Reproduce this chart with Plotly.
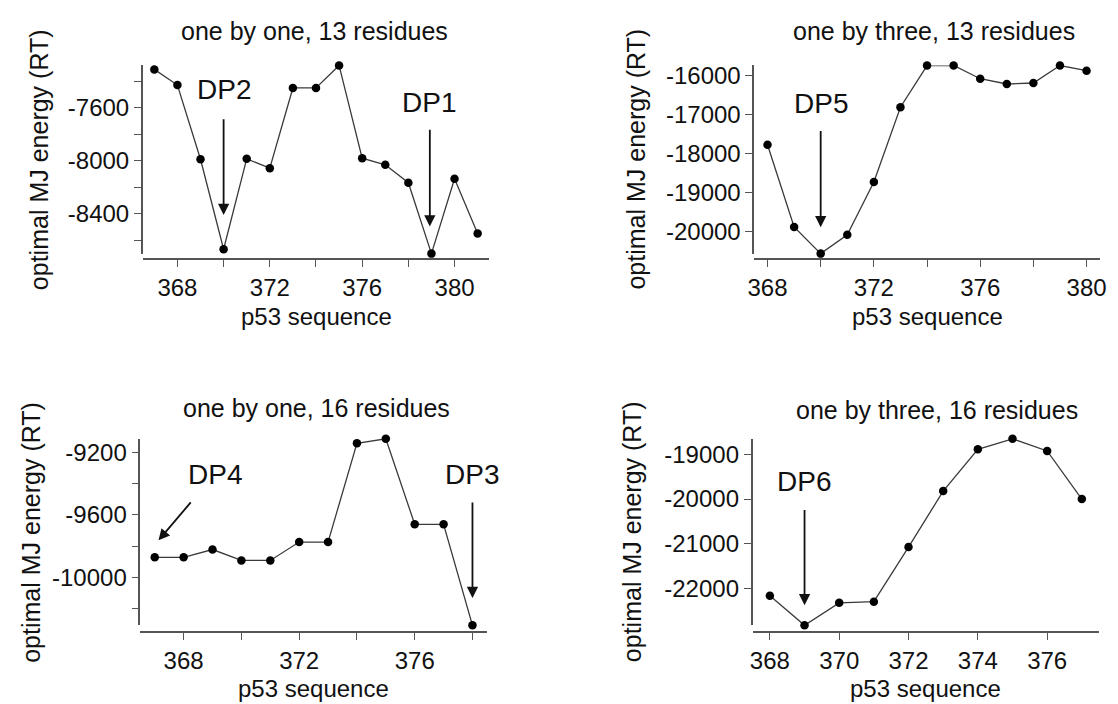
import plotly.graph_objects as go

FONT = "Liberation Sans, Arial, sans-serif"
W, H = 1118, 704

# ---------------- data ----------------
P1_TITLE = "one by one, 13 residues"
P1_X = [367, 368, 369, 370, 371, 372, 373, 374, 375, 376, 377, 378, 379, 380, 381]
P1_Y = [-7310, -7428, -7988, -8667, -7985, -8055, -7450, -7450, -7280, -7980, -8030, -8165, -8700, -8135, -8548]

P2_TITLE = "one by three, 13 residues"
P2_X = [368, 369, 370, 371, 372, 373, 374, 375, 376, 377, 378, 379, 380]
P2_Y = [-17775, -19885, -20570, -20085, -18732, -16808, -15740, -15736, -16077, -16213, -16187, -15738, -15872]

P3_TITLE = "one by one, 16 residues"
P3_X = [367, 368, 369, 370, 371, 372, 373, 374, 375, 376, 377, 378]
P3_Y = [-9872, -9872, -9822, -9892, -9892, -9774, -9774, -9141, -9112, -9660, -9660, -10308]

P4_TITLE = "one by three, 16 residues"
P4_X = [368, 369, 370, 371, 372, 373, 374, 375, 376, 377]
P4_Y = [-22163, -22822, -22320, -22293, -21073, -19823, -18890, -18655, -18926, -20000]

X_TITLE = "p53 sequence"
Y_TITLE = "optimal MJ energy (RT)"

# tick values / labels
P1_XTICKS = [368, 372, 376, 380]
P1_XMINOR = [368, 370, 372, 374, 376, 378, 380]
P1_YTICKS = [-7600, -8000, -8400]
P1_YMINOR = [-7400, -7600, -7800, -8000, -8200, -8400, -8600]

P2_XTICKS = [368, 372, 376, 380]
P2_XMINOR = [368, 370, 372, 374, 376, 378, 380]
P2_YTICKS = [-16000, -17000, -18000, -19000, -20000]
P2_YMINOR = []

P3_XTICKS = [368, 372, 376]
P3_XMINOR = [368, 370, 372, 374, 376, 378]
P3_YTICKS = [-9200, -9600, -10000]
P3_YMINOR = [-9200, -9400, -9600, -9800, -10000, -10200]

P4_XTICKS = [368, 370, 372, 374, 376]
P4_XMINOR = []
P4_YTICKS = [-19000, -20000, -21000, -22000]
P4_YMINOR = []

# annotations: (label, text_x, text_y, head_x, head_y, tail_x, tail_y)
P1_DP = [("DP2", 370.0, -7458, 370.0, -8409, 370.0, -7675),
         ("DP1", 378.9, -7563, 378.93, -8496, 378.93, -7754)]
P2_DP = [("DP5", 370.0, -16715, 370.0, -19895, 370.0, -17383)]
P3_DP = [("DP4", 369.08, -9341, 367.13, -9763, 368.29, -9510),
         ("DP3", 378.0, -9341, 378.0, -10133, 378.0, -9510)]
P4_DP = [("DP6", 368.98, -19603, 369.0, -22374, 369.0, -20213)]

# ---------------- layout geometry (pixels) ----------------
PANELS = [
    dict(title=P1_TITLE, x=P1_X, y=P1_Y, xt=P1_XTICKS, xm=P1_XMINOR, yt=P1_YTICKS, ym=P1_YMINOR, dp=P1_DP,
         x0=137.5, x1=488.3, ytop=62.7, ybot=251.7, xax=257.3,
         tx=311, ty=28.5, ytx=32, xtx=313, xty=315),
    dict(title=P2_TITLE, x=P2_X, y=P2_Y, xt=P2_XTICKS, xm=P2_XMINOR, yt=P2_YTICKS, ym=P2_YMINOR, dp=P2_DP,
         x0=756.7, x1=1106.7, ytop=62.7, ybot=251.7, xax=257.3,
         tx=939, ty=28.5, ytx=636, xtx=932, xty=315),
    dict(title=P3_TITLE, x=P3_X, y=P3_Y, xt=P3_XTICKS, xm=P3_XMINOR, yt=P3_YTICKS, ym=P3_YMINOR, dp=P3_DP,
         x0=135.0, x1=486.0, ytop=437.7, ybot=625.0, xax=631.7,
         tx=313, ty=407, ytx=24, xtx=310.5, xty=688),
    dict(title=P4_TITLE, x=P4_X, y=P4_Y, xt=P4_XTICKS, xm=P4_XMINOR, yt=P4_YTICKS, ym=P4_YMINOR, dp=P4_DP,
         x0=755.0, x1=1106.0, ytop=437.7, ybot=625.0, xax=631.7,
         tx=942, ty=409, ytx=633, xtx=930.5, xty=688),
]

TICK_FONT = dict(family=FONT, size=24, color="#111111")
AX_COLOR = "#555555"


def fx(px):
    return px / W


def fy(py):
    return 1 - py / H


fig = go.Figure()
annotations = []
layout = {}

for i, p in enumerate(PANELS, start=1):
    sfx = "" if i == 1 else str(i)
    xa, ya = "x" + sfx, "y" + sfx
    fig.add_trace(go.Scatter(
        x=p["x"], y=p["y"], xaxis=xa, yaxis=ya, mode="lines+markers",
        line=dict(color="#3a3a3a", width=1.3),
        marker=dict(color="#000000", size=8.5),
        cliponaxis=False, showlegend=False, hoverinfo="x+y"))

    xr = [min(p["x"]) - 0.5, max(p["x"]) + 0.5]
    yr = [min(p["y"]), max(p["y"])]

    layout["xaxis" + sfx] = dict(
        domain=[fx(p["x0"]), fx(p["x1"])], range=xr, anchor="free", position=fy(p["xax"]),
        showline=True, linecolor=AX_COLOR, linewidth=1.5, showgrid=False, zeroline=False,
        tickmode="array", tickvals=p["xt"], ticktext=[str(v) for v in p["xt"]],
        ticks="outside", ticklen=7, tickwidth=1.3, tickcolor=AX_COLOR, tickfont=TICK_FONT,
        minor=dict(tickmode="array", tickvals=p["xm"], ticks="outside", ticklen=7,
                   tickwidth=1.3, tickcolor=AX_COLOR, showgrid=False),
        fixedrange=True)
    layout["yaxis" + sfx] = dict(
        domain=[fy(p["ybot"]), fy(p["ytop"])], range=yr, anchor=xa,
        showline=True, linecolor=AX_COLOR, linewidth=1.5, showgrid=False, zeroline=False,
        tickmode="array", tickvals=p["yt"], ticktext=[str(v) for v in p["yt"]],
        ticks="outside", ticklen=7, tickwidth=1.3, tickcolor=AX_COLOR, tickfont=TICK_FONT,
        minor=dict(tickmode="array", tickvals=p["ym"], ticks="outside", ticklen=7,
                   tickwidth=1.3, tickcolor=AX_COLOR, showgrid=False),
        fixedrange=True)

    annotations.append(dict(text=p["title"], xref="paper", yref="paper", x=fx(p["tx"]), y=fy(p["ty"]),
                            xanchor="center", yanchor="middle", showarrow=False,
                            font=dict(family=FONT, size=25, color="#111111")))
    annotations.append(dict(text=X_TITLE, xref="paper", yref="paper", x=fx(p["xtx"]), y=fy(p["xty"]),
                            xanchor="center", yanchor="middle", showarrow=False,
                            font=dict(family=FONT, size=24, color="#111111")))
    annotations.append(dict(text=Y_TITLE, xref="paper", yref="paper", x=fx(p["ytx"]),
                            y=fy((p["ytop"] + p["ybot"]) / 2), textangle=-90,
                            xanchor="center", yanchor="middle", showarrow=False,
                            font=dict(family=FONT, size=25, color="#111111")))
    for lab, tx, ty, hx, hy, ax_, ay_ in p["dp"]:
        annotations.append(dict(text=lab, xref=xa, yref=ya, x=tx, y=ty, showarrow=False,
                                xanchor="center", yanchor="middle",
                                font=dict(family=FONT, size=28, color="#111111")))
        annotations.append(dict(text="", xref=xa, yref=ya, axref=xa, ayref=ya,
                                x=hx, y=hy, ax=ax_, ay=ay_, showarrow=True,
                                arrowhead=2, arrowsize=1.25, arrowwidth=1.8,
                                arrowcolor="#111111", standoff=0, startstandoff=0))

fig.update_layout(
    width=W, height=H, margin=dict(l=0, r=0, t=0, b=0),
    paper_bgcolor="white", plot_bgcolor="white",
    font=dict(family=FONT, color="#111111"),
    annotations=annotations, showlegend=False,
    **layout)

fig.write_html("out.html", config={"displayModeBar": False},
               post_script="document.body.style.margin='0px';document.body.style.overflow='hidden';")
